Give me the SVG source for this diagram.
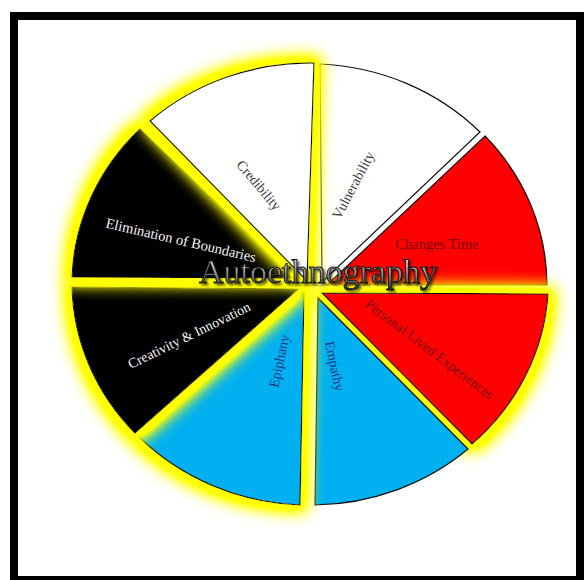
<svg xmlns="http://www.w3.org/2000/svg" width="586" height="580" viewBox="0 0 586 580">
<style>
.sl{stroke:#111;stroke-width:1.2;stroke-linejoin:miter}
.lbl{font-family:"Liberation Serif","Times New Roman",serif;font-size:14px;text-anchor:middle}
.dk{fill:#3a3a3a}
.rd{fill:#7a0000}
.bl{fill:#1a3a80}
.wh{fill:#f4f4f4}
</style>
<defs>
<filter id="glow" filterUnits="userSpaceOnUse" x="0" y="0" width="586" height="580">
<feMorphology in="SourceAlpha" operator="dilate" radius="6" result="d"/>
<feGaussianBlur in="d" stdDeviation="8" result="b"/>
<feComponentTransfer in="b" result="b2"><feFuncA type="linear" slope="1.7"/></feComponentTransfer>
<feFlood flood-color="#ffff00" result="f"/>
<feComposite in="f" in2="b2" operator="in" result="g"/>
<feMerge><feMergeNode in="g"/><feMergeNode in="SourceGraphic"/></feMerge>
</filter>
<filter id="tshadow" x="-10%" y="-30%" width="120%" height="160%">
<feGaussianBlur in="SourceAlpha" stdDeviation="1.2" result="s"/>
<feOffset in="s" dx="1.5" dy="1.5" result="o"/>
<feFlood flood-color="#000" flood-opacity="0.6"/>
<feComposite in2="o" operator="in" result="sh"/>
<feMerge><feMergeNode in="sh"/><feMergeNode in="SourceGraphic"/></feMerge>
</filter>
<linearGradient id="silver" x1="0" y1="0" x2="0" y2="1">
<stop offset="0" stop-color="#ffffff"/>
<stop offset="0.45" stop-color="#a0a0a0"/>
<stop offset="1" stop-color="#303030"/>
</linearGradient>
</defs>
<rect width="586" height="580" fill="#fff"/>
<rect x="14" y="16" width="566" height="564" fill="none" stroke="#000" stroke-width="8"/>
<g id="slices">
<g id="vulnerability"><path class="sl" fill="#fff" d="M322,282 L320,64 A237,222 0 0,1 480,132 Z"/></g>
<g id="changes-time"><path class="sl" fill="#ff0000" d="M327,285 L485,136 A237,222 0 0,1 547,285 Z"/></g>
<g id="personal-lived-experiences"><path class="sl" fill="#ff0000" filter="url(#glow)" d="M322,293 L548,294 A237,222 0 0,1 472,444 Z"/></g>
<g id="empathy"><path class="sl" fill="#00b0f0" d="M318,298 L468,449 A237,222 0 0,1 315,505 Z"/></g>
<g id="epiphany"><path class="sl" fill="#00b0f0" filter="url(#glow)" d="M304,292 L300,505 A237,222 0 0,1 139,437 Z"/></g>
<g id="creativity-innovation"><path class="sl" fill="#000" filter="url(#glow)" d="M298,289 L135,433 A237,222 0 0,1 72,287 Z"/></g>
<g id="elimination-of-boundaries"><path class="sl" fill="#000" filter="url(#glow)" d="M295,278 L72,277 A237,222 0 0,1 140,129 Z"/></g>
<g id="credibility"><path class="sl" fill="#fff" filter="url(#glow)" d="M307,281 L150,121 A237,222 0 0,1 314,63 Z"/></g>
</g>
<g id="labels">
<text id="t-credibility" class="lbl dk" transform="translate(259,185) rotate(50)" y="5">Credibility</text>
<text id="t-vulnerability" class="lbl dk" transform="translate(353,185) rotate(-62)" y="5">Vulnerability</text>
<text id="t-changes" class="lbl rd" x="437" y="249" style="font-size:14.5px">Changes Time</text>
<text id="t-personal" class="lbl rd" transform="translate(430,349) rotate(37)" y="5">Personal Lived Experiences</text>
<text id="t-empathy" class="lbl bl" transform="translate(335,366) rotate(78)" y="5">Empathy</text>
<text id="t-epiphany" class="lbl bl" transform="translate(279,361) rotate(-78)" y="5">Epiphany</text>
<text id="t-creativity" class="lbl wh" transform="translate(189,335) rotate(-26)" y="5">Creativity &amp; Innovation</text>
<text id="t-elimination" class="lbl wh" transform="translate(181,240) rotate(13)" y="5" style="font-size:14.5px">Elimination of Boundaries</text>
<text id="t-title" x="318" y="283" text-anchor="middle" font-family="'Liberation Serif','Times New Roman',serif" font-size="34" fill="url(#silver)" stroke="#111" stroke-width="0.9" filter="url(#tshadow)">Autoethnography</text>
</g>
</svg>
